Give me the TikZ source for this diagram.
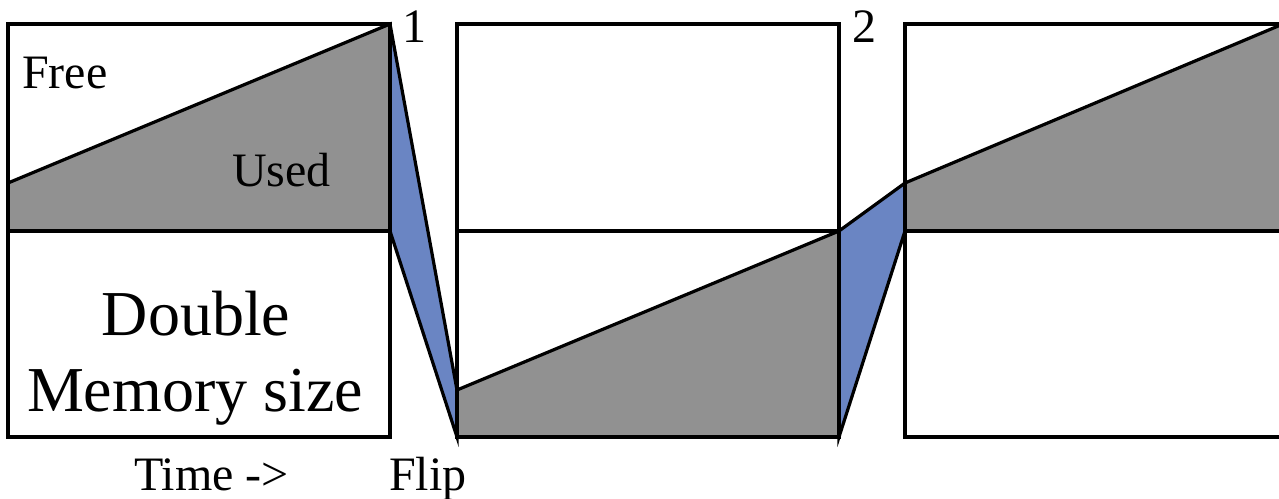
\documentclass[tikz,border=0pt]{standalone}
\usepackage{fontspec}
\setmainfont{Liberation Serif}
\definecolor{usedgray}{RGB}{145,145,145}
\definecolor{flipblue}{RGB}{106,133,195}
\tikzset{
  outline/.style={draw=black,line width=3.2pt,line join=miter},
  midline/.style={draw=black,line width=4pt},
  usedarea/.style={outline,fill=usedgray},
  fliparea/.style={outline,fill=flipblue},
  lbl/.style={inner sep=0pt,anchor=base west,font=\fontsize{48}{52}\selectfont},
  biglbl/.style={inner sep=0pt,anchor=base,font=\fontsize{64}{70}\selectfont}
}
\begin{document}
\begin{tikzpicture}[x=1pt,y=-1pt]
\useasboundingbox (0,0) rectangle (1279,498);
% key points
\coordinate (a1) at (8,24);   \coordinate (b1) at (390,437);
\coordinate (a2) at (457,24); \coordinate (b2) at (839,437);
\coordinate (a3) at (905,24); \coordinate (b3) at (1300,437);
% used areas
\draw[usedarea] (8,183) -- (390,24) -- (390,231) -- (8,231) -- cycle;
\draw[usedarea] (457,390) -- (839,231) -- (839,437) -- (457,437) -- cycle;
\draw[usedarea] (905,183) -- (1283,24) -- (1300,24) -- (1300,231) -- (905,231) -- cycle;
% flips
\draw[fliparea] (390,24) -- (457,390) -- (457,437) -- (390,231) -- cycle;
\draw[fliparea] (839,231) -- (905,183) -- (905,231) -- (839,437) -- cycle;
% boxes
\draw[outline] (a1) rectangle (b1);
\draw[outline] (a2) rectangle (b2);
\draw[outline] (a3) rectangle (b3);
\draw[midline] (8,231) -- (390,231);
\draw[midline] (457,231) -- (839,231);
\draw[midline] (905,231) -- (1300,231);
% labels
\node[lbl] (free) at (22,88) {Free};
\node[lbl] (used) at (232,186) {Used};
\node[lbl] (one) at (402,42) {1};
\node[lbl] (two) at (852,42) {2};
\node[biglbl] (double) at (196,335) {Double};
\node[biglbl] (memsize) at (195,411) {Memory size};
\node[lbl] (time) at (134,490) {Time ->};
\node[lbl] (flip) at (389,490) {Flip};
\end{tikzpicture}
\end{document}
